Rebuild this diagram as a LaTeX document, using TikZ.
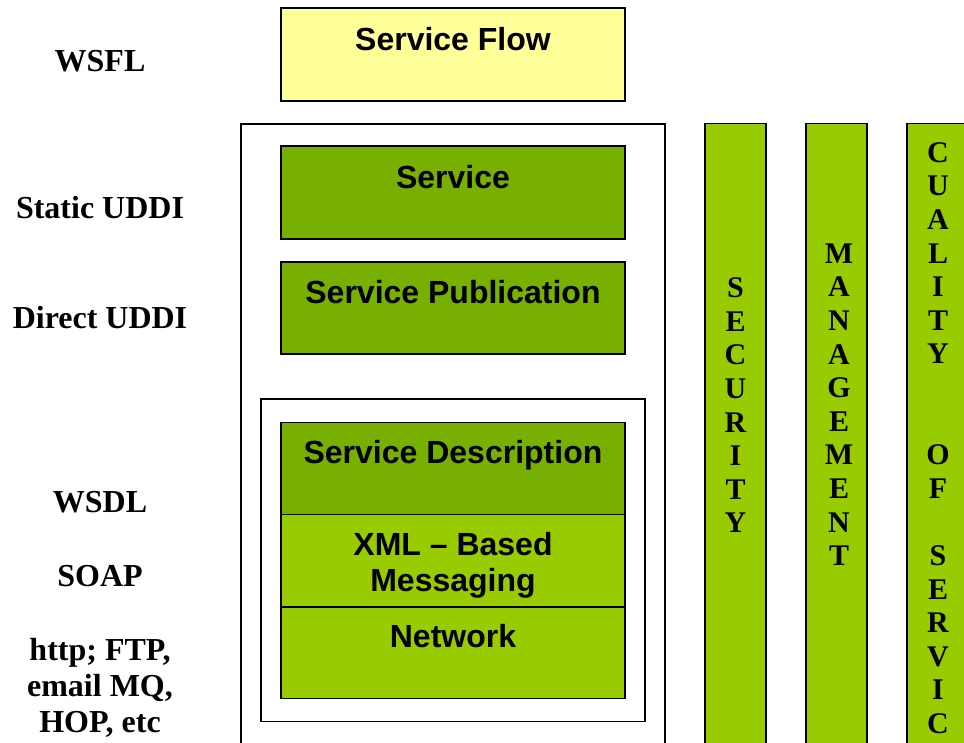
\documentclass[tikz,border=0pt]{standalone}
\usepackage{fontspec}
\setmainfont{Liberation Serif}
\setsansfont{Liberation Sans}
\definecolor{yel}{HTML}{FFFF99}
\definecolor{dkg}{RGB}{119,176,0}
\definecolor{ltg}{HTML}{99CC00}
\newcommand\mystack[1]{\begin{tabular}[t]{@{}c@{}}#1\end{tabular}}
\begin{document}
\begin{tikzpicture}[x=1pt,y=-1pt,
  box/.style={draw=black, line width=1.6pt, inner sep=0pt, outer sep=0pt},
  boxtxt/.style={anchor=base, inner sep=0pt, font=\sffamily\bfseries\fontsize{32}{36.7}\selectfont},
  sidelbl/.style={anchor=base, inner sep=0pt, font=\rmfamily\bfseries\fontsize{32}{36}\selectfont},
  vert/.style={anchor=base, inner sep=0pt, font=\rmfamily\bfseries\fontsize{30}{33.6}\selectfont}]
\useasboundingbox (0,0) rectangle (964,742);
\clip (0,0) rectangle (964,742);
% boxes
\node[box, fill=yel, minimum width=344pt, minimum height=93pt] (flow) at (453,54.5) {};
\node[box, fill=white, minimum width=424pt, minimum height=640pt] (outer) at (453,444) {};
\node[box, fill=dkg, minimum width=344pt, minimum height=93pt] (service) at (453,192.5) {};
\node[box, fill=dkg, minimum width=344pt, minimum height=92pt] (pub) at (453,308) {};
\node[box, fill=white, minimum width=384pt, minimum height=322.5pt] (inner) at (453,560.25) {};
\node[box, fill=dkg, minimum width=344pt, minimum height=92pt] (desc) at (453,468.3) {};
\node[box, fill=ltg, minimum width=344pt, minimum height=92.4pt] (xml) at (453,560.5) {};
\node[box, fill=ltg, minimum width=344pt, minimum height=91.6pt] (net) at (453,652.5) {};
\node[box, fill=ltg, minimum width=61pt, minimum height=640pt] (sec) at (735.5,443.3) {};
\node[box, fill=ltg, minimum width=61pt, minimum height=640pt] (mgmt) at (836.5,443.3) {};
\node[box, fill=ltg, minimum width=70pt, minimum height=640pt] (qual) at (942,443.3) {};
% box texts
\node[boxtxt] (tflow) at (453,50) {Service Flow};
\node[boxtxt] (tservice) at (453,188) {Service};
\node[boxtxt] (tpub) at (453,303) {Service Publication};
\node[boxtxt] (tdesc) at (453,463.3) {Service Description};
\node[boxtxt] (txml) at (453,555) {\mystack{XML – Based\\Messaging}};
\node[boxtxt] (tnet) at (453,647.7) {Network};
% side labels
\node[sidelbl] (wsfl) at (100,71.7) {WSFL};
\node[sidelbl] (suddi) at (100,218.3) {Static UDDI};
\node[sidelbl] (duddi) at (100,328.3) {Direct UDDI};
\node[sidelbl] (wsdl) at (100,512.7) {WSDL};
\node[sidelbl] (soap) at (100,586.7) {SOAP};
\node[sidelbl] (http) at (100,660) {\mystack{http; FTP,\\email MQ,\\HOP, etc}};
% vertical texts
\node[vert] (tsec) at (735.5,297.7) {\mystack{S\\E\\C\\U\\R\\I\\T\\Y}};
\node[vert] (tmgmt) at (839,263.3) {\mystack{M\\A\\N\\A\\G\\E\\M\\E\\N\\T}};
\node[vert] (tqual) at (938,162.3) {\mystack{C\\U\\A\\L\\I\\T\\Y\\~\\~\\O\\F\\~\\S\\E\\R\\V\\I\\C}};
\end{tikzpicture}
\end{document}
